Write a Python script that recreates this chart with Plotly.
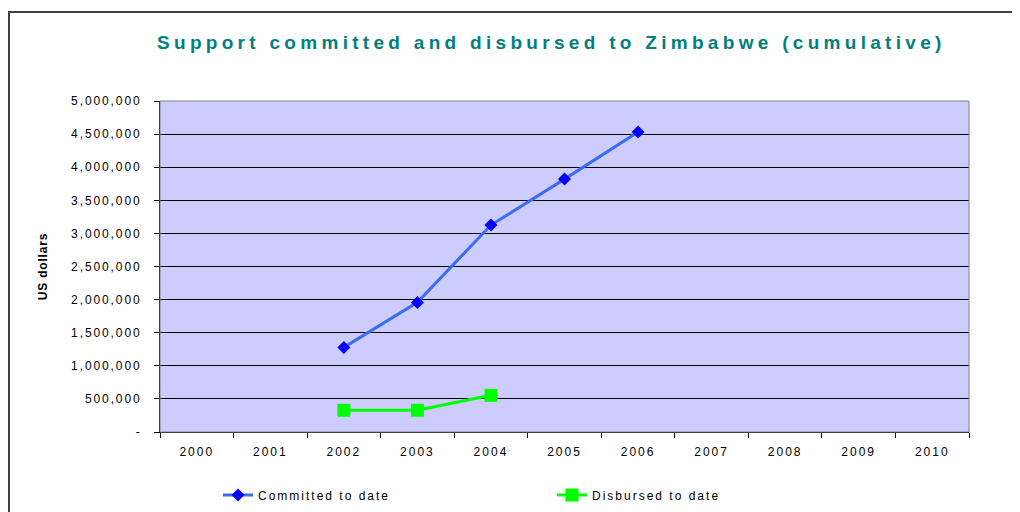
import plotly.graph_objects as go

years = [str(y) for y in range(2000, 2011)]
committed_years = ["2002", "2003", "2004", "2005", "2006"]
committed = [1278000, 1958000, 3126000, 3820000, 4530000]
disbursed_years = ["2002", "2003", "2004"]
disbursed = [328000, 328000, 554000]
y_ticks = [0, 500000, 1000000, 1500000, 2000000, 2500000, 3000000, 3500000, 4000000, 4500000, 5000000]
y_ticktext = ["-", "500,000", "1,000,000", "1,500,000", "2,000,000", "2,500,000",
              "3,000,000", "3,500,000", "4,000,000", "4,500,000", "5,000,000"]

OFF = 8  # page body margin
W, H = 1012, 504
L, R, T, B = 152, 51, 93, 80
pw, ph = W - L - R, H - T - B


def px(x):
    return (x - OFF - L) / pw


def py(y):
    return (H - B - (y - OFF)) / ph


def sp(s, ls):
    return '<span style="letter-spacing:%spx">%s</span>' % (ls, s)


fig = go.Figure()
fig.add_trace(go.Scatter(
    x=committed_years, y=committed, name=sp("Committed to date", 2), mode="lines+markers",
    line=dict(color="#3a6cf4", width=3),
    marker=dict(symbol="diamond", size=10, color="#0000ff"),
))
fig.add_trace(go.Scatter(
    x=disbursed_years, y=disbursed, name=sp("Disbursed to date", 2), mode="lines+markers",
    line=dict(color="#00ff00", width=3),
    marker=dict(symbol="square", size=13, color="#00ff00"),
))

fig.update_layout(
    width=W, height=H,
    margin=dict(l=L, r=R, t=T, b=B, autoexpand=False),
    paper_bgcolor="white",
    plot_bgcolor="#ccccff",
    font=dict(family="Arial, Liberation Sans, sans-serif", size=12, color="black"),
    showlegend=True,
    legend=dict(orientation="h", x=px(218), y=py(495), xanchor="left", yanchor="middle",
                entrywidth=289, font=dict(size=12), bgcolor="rgba(0,0,0,0)"),
    annotations=[dict(
        text="<b>" + sp("Support committed and disbursed to Zimbabwe (cumulative)", 4.3) + "</b>",
        x=px(551), y=py(42), xref="paper", yref="paper", xanchor="center", yanchor="middle",
        showarrow=False, font=dict(size=19, color="#008080", weight=700),
    )],
    shapes=[
        dict(type="rect", xref="paper", yref="paper", x0=px(9), x1=px(1040), y0=py(540), y1=py(12),
             line=dict(color="#404040", width=2), fillcolor="rgba(0,0,0,0)"),
        dict(type="rect", xref="paper", yref="paper", x0=0, x1=1, y0=0, y1=1,
             line=dict(color="#808080", width=1), fillcolor="rgba(0,0,0,0)"),
    ],
)

fig.update_xaxes(
    type="category", categoryorder="array", categoryarray=years,
    tickmode="array", tickvals=years, ticktext=[sp(y, 2) for y in years],
    range=[-0.5, 10.5], tickson="boundaries", ticks="outside", ticklen=5,
    tickcolor="black", showline=True, linecolor="black", linewidth=1,
    showgrid=False, zeroline=False, tickfont=dict(size=12), ticklabelstandoff=9,
)
fig.update_yaxes(
    range=[0, 5000000], tickmode="array", tickvals=y_ticks, ticktext=[sp(t, 1.9) for t in y_ticktext],
    ticks="outside", ticklen=5, tickcolor="black",
    showline=True, linecolor="black", linewidth=1,
    showgrid=True, gridcolor="black", gridwidth=1, zeroline=False,
    tickfont=dict(size=12), ticklabelstandoff=10,
    title=dict(text="<b>" + sp("US dollars", 0.8) + "</b>", font=dict(size=12), standoff=20),
)

fig.write_html("out.html")
